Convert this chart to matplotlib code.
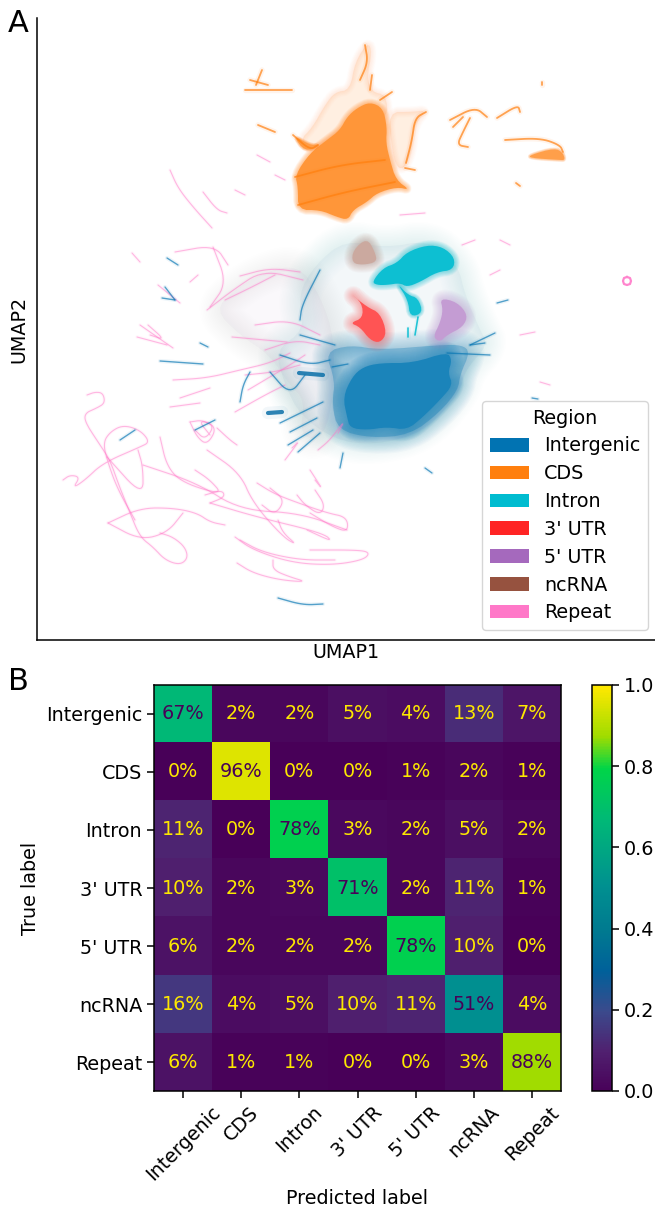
import matplotlib
matplotlib.use("Agg")
import numpy as np
import matplotlib.pyplot as plt
from matplotlib.colors import LinearSegmentedColormap, to_rgb
from matplotlib.patches import Patch

W, H = 655, 1210
FS = 13.8
plt.rcParams['font.family'] = ['DejaVu Sans']

regions = ["Intergenic", "CDS", "Intron", "3' UTR", "5' UTR", "ncRNA", "Repeat"]
region_colors = ["#0173b2", "#ff7f0e", "#00bcd0", "#ff2424", "#a569bd", "#96523f", "#ff78c8"]
BLUE, ORANGE, CYAN, RED, PURPLE, BROWN, PINK = region_colors

matrix_pct = [
    [67, 2, 2, 5, 4, 13, 7],
    [0, 96, 0, 0, 1, 2, 1],
    [11, 0, 78, 3, 2, 5, 2],
    [10, 2, 3, 71, 2, 11, 1],
    [6, 2, 2, 2, 78, 10, 0],
    [16, 4, 5, 10, 11, 51, 4],
    [6, 1, 1, 0, 0, 3, 88],
]
cbar_ticks = [0.0, 0.2, 0.4, 0.6, 0.8, 1.0]

# UMAP embedding outlines and traces
cds_body = [(295,175),(310,153),(327,140),(340,130),(347,117),(357,108),(370,102),(383,108),(387,127),(386,143),(390,160),(396,180),(410,190),(397,187),(377,193),(367,202),(353,210),(348,220),(337,217),(320,210),(298,210),(298,187)]
cds_halo = [(300,140),(312,128),(325,105),(335,92),(350,90),(355,62),(368,42),(372,52),(367,78),(372,92),(386,95),(388,118),(365,115),(340,132),(312,152)]
cds_lobe = [(388,112),(412,112),(427,110),(414,125),(412,150),(405,168),(397,168),(392,150)]
intron_body = [(372,282),(383,268),(397,263),(407,252),(427,245),(443,247),(455,258),(453,270),(437,272),(420,282),(407,287),(400,283),(387,285),(377,285)]
intron_tail = [(397,283),(408,295),(418,298),(423,313),(410,317),(408,300)]
utr3_body = [(350,293),(367,307),(380,313),(387,333),(380,343),(370,340),(360,327),(350,323),(363,318),(362,303)]
utr5_body = [(440,298),(457,302),(468,315),(463,327),(447,335),(440,342),(433,337),(440,323),(443,310)]
ncrna_body = [(367,238),(375,252),(377,262),(363,265),(352,263),(353,250)]
inter_body = [(347,417),(343,397),(352,377),(363,367),(380,363),(413,363),(447,352),(452,360),(448,373),(453,385),(440,400),(423,417),(407,430),(387,427),(367,430),(350,428)]
inter_halo = [(338,430),(332,405),(335,380),(325,352),(350,345),(380,350),(440,345),(462,345),(470,352),(460,375),(458,390),(440,412),(410,435),(370,438)]
pale_halo = [(305,330),(298,295),(315,265),(345,240),(385,248),(430,240),(458,265),(465,295),(480,330),(488,345),(465,370),(460,392),(425,432),(375,445),(335,440),(300,415),(285,385),(275,350)]
fan_halo = [(215,310),(235,290),(265,272),(298,265),(320,295),(335,340),(332,410),(320,440),(300,435),(305,400),(290,385),(270,355),(240,335)]

repeat_traces = [
    [(87,395),(95,392),(103,393),(105,403),(97,408),(85,413),(85,422),(98,442),(110,460),(118,483),(130,513),(140,537),(153,547),(165,560),(180,565),(188,558),(185,547),(173,537),(160,533)],
    [(63,480),(70,475),(80,477),(73,488),(85,480),(103,463),(140,447),(150,442),(140,430),(123,425),(110,432),(103,443),(108,463),(118,490),(135,520)],
    [(108,523),(140,508),(173,508),(197,513),(210,522),(225,525)],
    [(108,523),(140,540),(167,533),(183,513)],
    [(235,537),(253,550),(293,563),(333,565),(363,560),(370,553),(360,550),(310,550)],
    [(240,540),(262,552),(300,560),(335,560)],
    [(107,457),(143,497),(143,467),(138,450)],
    [(160,437),(167,467),(183,483),(223,495),(210,480),(195,470)],
    [(207,450),(240,473),(253,503),(283,537),(297,545),(283,533),(278,520)],
    [(143,465),(197,483),(240,510),(300,513),(347,530)],
    [(210,503),(257,517),(323,533),(333,542),(307,530)],
    [(257,483),(273,493),(290,500),(327,513),(347,517),(348,532),(333,527),(310,513)],
    [(237,563),(253,573),(280,580),(307,582),(290,577),(273,570),(273,560)],
    [(190,422),(203,420),(217,428),(207,445),(197,437),(190,422)],
    [(195,430),(205,440),(215,425),(198,420),(210,435)],
    [(217,428),(230,440),(237,445)],
    [(170,170),(178,188),(193,207),(212,228)],
    [(203,192),(217,210),(227,213)],
    [(132,253),(140,262)],
    [(190,282),(198,275)],
    [(158,285),(180,303)],
    [(140,325),(173,348)],
    [(137,337),(167,345)],
    [(148,325),(165,340),(150,335)],
    [(232,337),(287,342)],
    [(173,380),(207,378),(240,370),(270,363),(290,353)],
    [(170,407),(200,403)],
    [(180,398),(210,388)],
    [(207,310),(233,290),(263,270),(303,280)],
    [(213,247),(227,283),(210,307)],
    [(240,276),(270,268),(300,272)],
    [(225,300),(250,288),(275,275)],
    [(248,390),(290,365),(305,355)],
    [(175,252),(215,245),(228,265)],
    [(262,505),(275,515),(285,500),(270,488)],
    [(205,495),(222,490),(225,497),(210,503)],
    [(297,495),(305,505),(320,515),(325,505),(315,490)],
    [(310,470),(323,490),(315,480)],
    [(338,433),(345,420),(330,440),(318,450)],
    [(292,448),(300,440),(285,460)],
    [(257,155),(270,162)],
    [(275,175),(285,180)],
    [(235,190),(245,195)],
    [(400,215),(425,213)],
    [(462,245),(475,240)],
    [(490,275),(500,270)],
    [(520,335),(535,332)],
    [(540,382),(550,385)],
    [(500,240),(510,245)],
    [(245,375),(275,372),(300,365)],
    [(265,350),(295,340),(320,345)],
    [(255,325),(290,320),(320,335)],
    [(235,412),(265,395),(285,385)],
]
blue_traces = [
    [(167,258),(178,265)],
    [(162,298),(175,300)],
    [(165,287),(175,300)],
    [(160,361),(203,364)],
    [(200,343),(208,347)],
    [(280,423),(323,402)],
    [(290,432),(317,418)],
    [(288,445),(313,430)],
    [(298,452),(320,433)],
    [(340,468),(343,453)],
    [(332,367),(348,364)],
    [(447,353),(490,355)],
    [(470,345),(495,333)],
    [(470,345),(485,343)],
    [(278,598),(303,605),(323,604)],
    [(497,303),(508,300)],
    [(532,398),(538,399)],
    [(425,468),(432,473)],
    [(280,355),(310,365),(330,360)],
    [(300,335),(335,345)],
    [(240,402),(243,385),(250,372)],
    [(120,440),(135,430)],
    [(195,430),(215,420)],
    [(300,320),(302,305),(320,270)],
    [(270,372),(290,395),(305,375)],
]
thick_blue = [[(299,373),(323,375)], [(268,413),(282,412)]]
orange_traces = [
    [(262,70),(256,85)],
    [(245,90),(292,90)],
    [(250,80),(268,85)],
    [(258,125),(275,132)],
    [(293,135),(310,150),(318,145)],
    [(450,120),(475,107),(487,117)],
    [(453,127),(463,117)],
    [(470,118),(463,132),(457,145),(468,147)],
    [(497,118),(518,105),(520,112)],
    [(505,140),(540,138),(560,145),(563,152)],
    [(295,177),(340,165),(385,160)],
    [(298,205),(345,192),(395,182)],
    [(365,45),(368,62),(360,80)],
    [(426,112),(415,118),(412,140),(406,163)],
    [(542,82),(542,85)],
    [(516,183),(520,186)],
    [(370,90),(372,75)],
    [(380,100),(392,92)],
    [(405,168),(415,170)],
]
orange_patches = [
    [(530,155),(555,148),(563,153),(565,160),(560,160),(530,158)],
    [(293,135),(310,145),(320,145),(305,152)],
]
intron_traces = [[(418,317),(415,335)], [(408,328),(408,337)]]
ring = [(627,277),(630,278),(631,281),(630,284),(627,285),(624,284),(623,281),(624,278),(627,277)]


def smooth(pts, closed, rounds=3):
    p = np.array(pts, float)
    for _ in range(rounds):
        if closed:
            q = np.roll(p, -1, axis=0)
            p = np.column_stack([.75 * p + .25 * q, .25 * p + .75 * q]).reshape(-1, 2)
        else:
            a, b = p[:-1], p[1:]
            mid = np.column_stack([.75 * a + .25 * b, .25 * a + .75 * b]).reshape(-1, 2)
            p = np.vstack([p[0], mid, p[-1]])
    return p


def soft_fill(ax, pts, color, alpha, spread=8, edge=.03, steps=10, solid=False):
    p = smooth(pts, True, 2)
    for lw in np.linspace(spread, 0.5, steps):
        ax.fill(p[:, 0], p[:, 1], facecolor='none', edgecolor=color, alpha=edge, lw=lw, joinstyle='round')
    if solid:
        mix = tuple(alpha * c + (1 - alpha) for c in to_rgb(color))
        ax.fill(p[:, 0], p[:, 1], color=mix, lw=0)
    else:
        ax.fill(p[:, 0], p[:, 1], color=color, alpha=alpha, lw=0)


def traces(ax, items, color, lw, alpha, glow=0.10):
    for t in items:
        p = smooth(t, False)
        ax.plot(p[:, 0], p[:, 1], color=color, lw=lw * 3, alpha=glow, solid_capstyle='round')
        ax.plot(p[:, 0], p[:, 1], color=color, lw=lw, alpha=alpha, solid_capstyle='round')


fig = plt.figure(figsize=(W / 100, H / 100), dpi=100)


def box(l, t, r, b):
    return [l / W, 1 - b / H, (r - l) / W, (b - t) / H]


ax = fig.add_axes(box(37, 18, 655, 640))
ax.set_xlim(37, 655)
ax.set_ylim(640, 18)
ax.set_xticks([])
ax.set_yticks([])
for s in ('top', 'right'):
    ax.spines[s].set_visible(False)
for s in ('left', 'bottom'):
    ax.spines[s].set_linewidth(1.1)
ax.set_xlabel("UMAP1", fontsize=FS, labelpad=2)
ax.set_ylabel("UMAP2", fontsize=FS, labelpad=6)

soft_fill(ax, pale_halo, "#8fb4cc", 0.10, 30, .012, 14)
soft_fill(ax, fan_halo, "#b58cc0", 0.06, 30, .008, 14)
soft_fill(ax, inter_halo, BLUE, 0.30, 24, .022, 14)
soft_fill(ax, inter_body, "#0f7db6", 0.95, 18, .055, 14, solid=True)
soft_fill(ax, cds_halo, ORANGE, 0.12, 8, .012)
soft_fill(ax, cds_lobe, ORANGE, 0.12, 8, .012)
soft_fill(ax, cds_body, ORANGE, 0.82, 7, .05, solid=True)
soft_fill(ax, intron_body, CYAN, 0.95, 8, .05, solid=True)
soft_fill(ax, intron_tail, CYAN, 0.92, 5, .05, solid=True)
soft_fill(ax, utr3_body, RED, 0.78, 14, .04, solid=True)
soft_fill(ax, utr5_body, PURPLE, 0.66, 14, .035, solid=True)
soft_fill(ax, ncrna_body, BROWN, 0.50, 12, .03, solid=True)
for p in orange_patches:
    soft_fill(ax, p, ORANGE, 0.75, 3, .05, solid=True)

traces(ax, repeat_traces, PINK, 0.8, 0.50, 0.07)
traces(ax, blue_traces, BLUE, 1.0, 0.65, 0.07)
traces(ax, thick_blue, "#0a6fa8", 3.0, 0.85, 0.05)
traces(ax, orange_traces, ORANGE, 1.3, 0.70, 0.08)
traces(ax, intron_traces, CYAN, 1.2, 0.85, 0.05)
ax.plot(*zip(*ring), color=PINK, lw=1.6, alpha=0.9)

handles = [Patch(facecolor=c, edgecolor='none', label=r) for r, c in zip(regions, region_colors)]
leg = ax.legend(handles=handles, title="Region", fontsize=FS, title_fontsize=FS,
                loc='lower right', bbox_to_anchor=(648, 630), bbox_transform=ax.transData,
                borderaxespad=0, handlelength=2.03, handleheight=0.72, labelspacing=0.46,
                handletextpad=0.8, borderpad=0.4, framealpha=0.8, frameon=True)

cmap = LinearSegmentedColormap.from_list("confusion", [
    (0.0, "#480058"), (0.1, "#50206f"), (0.2, "#3b4a8c"), (0.3, "#00609a"),
    (0.4, "#007a90"), (0.51, "#009090"), (0.67, "#00b877"), (0.8, "#00d548"),
    (0.88, "#a0dc00"), (1.0, "#fde800")])

axb = fig.add_axes(box(154, 685, 561, 1091))
vals = np.array(matrix_pct) / 100
im = axb.imshow(vals, cmap=cmap, vmin=0, vmax=1, aspect='auto', interpolation='nearest')
axb.set_xticks(range(len(regions)), regions, rotation=45, fontsize=FS)
axb.set_yticks(range(len(regions)), regions, fontsize=FS)
axb.tick_params(length=5, width=1.1)
for s in axb.spines.values():
    s.set_linewidth(1.1)
axb.set_xlabel("Predicted label", fontsize=FS, labelpad=3)
axb.set_ylabel("True label", fontsize=FS, labelpad=4)
for i, row in enumerate(matrix_pct):
    for j, v in enumerate(row):
        axb.text(j, i, f"{v}%", ha='center', va='center', fontsize=FS,
                 color="#480058" if v > 50 else "#fde800")

cax = fig.add_axes(box(591.5, 685, 612, 1091))
cb = fig.colorbar(im, cax=cax, ticks=cbar_ticks)
cb.solids.set_edgecolor("face")
cb.solids.set_linewidth(2)
cb.ax.tick_params(length=5, width=1.1, labelsize=FS)
cb.outline.set_linewidth(1.1)

fig.text(8 / W, 1 - 32 / H, "A", fontsize=22)
fig.text(8 / W, 1 - 690 / H, "B", fontsize=22)

fig.savefig("out.png", dpi=100)
